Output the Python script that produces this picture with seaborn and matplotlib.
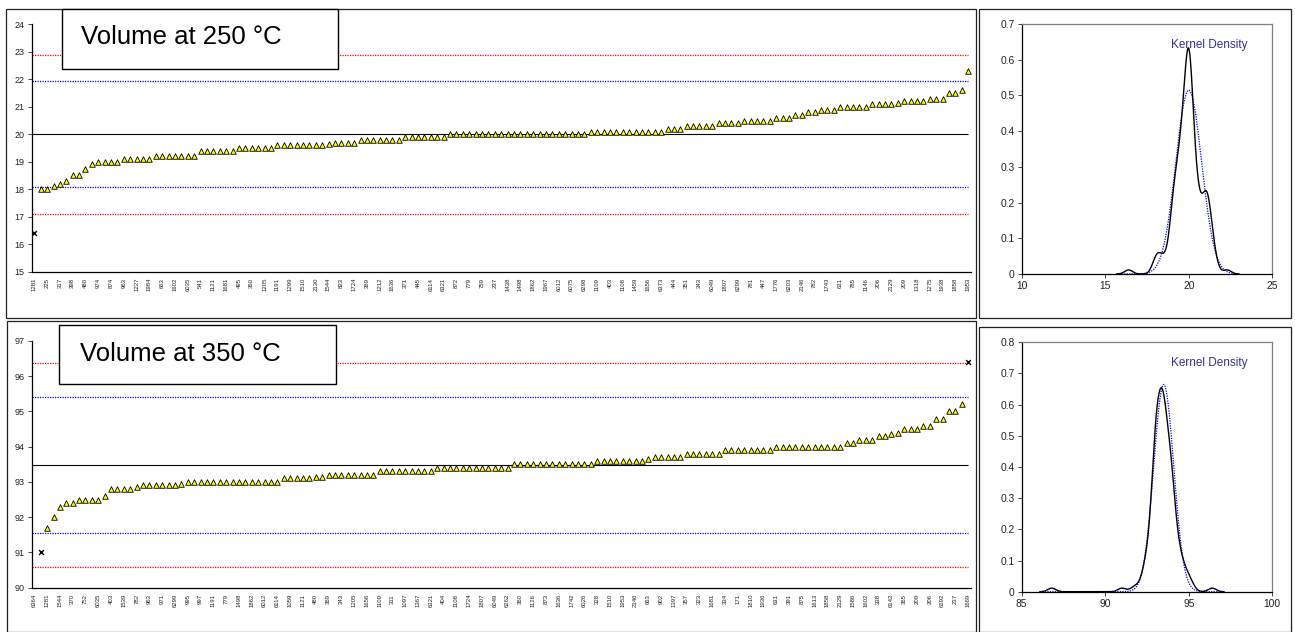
import numpy as np
import pandas as pd
import matplotlib
matplotlib.use("Agg")
import matplotlib.pyplot as plt
from matplotlib.patches import Rectangle
import seaborn as sns

# ---------------------------------------------------------------------------
# Volume at 250 °C: laboratory results sorted ascending
vol250 = [
    16.4, 18.0, 18.0, 18.1, 18.2, 18.3, 18.5, 18.5, 18.75, 18.9,
    19.0, 19.0, 19.0, 19.0, 19.1, 19.1, 19.1, 19.1, 19.1,
    19.2, 19.2, 19.2, 19.2, 19.2, 19.2, 19.2,
    19.4, 19.4, 19.4, 19.4, 19.4, 19.4,
    19.5, 19.5, 19.5, 19.5, 19.5, 19.5,
    19.6, 19.6, 19.6, 19.6, 19.6, 19.6, 19.6, 19.6, 19.65,
    19.7, 19.7, 19.7, 19.7,
    19.8, 19.8, 19.8, 19.8, 19.8, 19.8, 19.8,
    19.9, 19.9, 19.9, 19.9, 19.9, 19.9, 19.9,
    20.0, 20.0, 20.0, 20.0, 20.0, 20.0, 20.0, 20.0, 20.0, 20.0, 20.0,
    20.0, 20.0, 20.0, 20.0, 20.0, 20.0, 20.0, 20.0, 20.0, 20.0, 20.0,
    20.1, 20.1, 20.1, 20.1, 20.1, 20.1, 20.1, 20.1, 20.1, 20.1, 20.1, 20.1,
    20.2, 20.2, 20.2,
    20.3, 20.3, 20.3, 20.3, 20.3,
    20.4, 20.4, 20.4, 20.4,
    20.5, 20.5, 20.5, 20.5, 20.5,
    20.6, 20.6, 20.6, 20.7, 20.7, 20.8, 20.8,
    20.9, 20.9, 20.9,
    21.0, 21.0, 21.0, 21.0, 21.0,
    21.1, 21.1, 21.1, 21.1, 21.15,
    21.2, 21.2, 21.2, 21.2,
    21.3, 21.3, 21.3, 21.5, 21.5, 21.6, 22.3,
]
labs250 = [
    "1281", "225", "317", "398", "480", "974", "874", "963", "1227", "1984",
    "663", "1602", "6035", "541", "1121", "1681", "495", "360", "1205", "1191",
    "1299", "1510", "2130", "1544", "823", "1724", "369", "1212", "1636", "371",
    "445", "6114", "6321", "872", "779", "759", "237", "1438", "1498", "1862",
    "1967", "6012", "6075", "6298", "1109", "403", "1108", "1459", "1656", "6373",
    "444", "351", "343", "6049", "1807", "6299", "781", "447", "1776", "6203",
    "2146", "782", "1743", "631", "785", "1146", "206", "2129", "209", "1318",
    "1275", "1938", "1858", "1953",
]
outliers250 = [0]
center250 = 20.0
warn250 = [18.07, 21.93]
action250 = [17.11, 22.89]
normal250 = (20.0, 0.775)          # mean, sd of the fitted normal curve

# Volume at 350 °C: laboratory results sorted ascending
vol350 = [
    86.8, 91.0, 91.7, 92.0, 92.3, 92.4, 92.4,
    92.5, 92.5, 92.5, 92.5, 92.6,
    92.8, 92.8, 92.8, 92.8, 92.85,
    92.9, 92.9, 92.9, 92.9, 92.9, 92.9, 92.95,
    93.0, 93.0, 93.0, 93.0, 93.0, 93.0, 93.0, 93.0, 93.0, 93.0,
    93.0, 93.0, 93.0, 93.0, 93.0,
    93.1, 93.1, 93.1, 93.1, 93.1, 93.15, 93.15,
    93.2, 93.2, 93.2, 93.2, 93.2, 93.2, 93.2, 93.2,
    93.3, 93.3, 93.3, 93.3, 93.3, 93.3, 93.3, 93.3, 93.3,
    93.4, 93.4, 93.4, 93.4, 93.4, 93.4, 93.4, 93.4, 93.4, 93.4, 93.4, 93.4,
    93.5, 93.5, 93.5, 93.5, 93.5, 93.5, 93.5, 93.5, 93.5, 93.5, 93.5, 93.5, 93.5,
    93.6, 93.6, 93.6, 93.6, 93.6, 93.6, 93.6, 93.6, 93.65,
    93.7, 93.7, 93.7, 93.7, 93.7,
    93.8, 93.8, 93.8, 93.8, 93.8, 93.8,
    93.9, 93.9, 93.9, 93.9, 93.9, 93.9, 93.9, 93.9,
    94.0, 94.0, 94.0, 94.0, 94.0, 94.0, 94.0, 94.0, 94.0, 94.0, 94.0,
    94.1, 94.1, 94.2, 94.2, 94.2, 94.3, 94.3, 94.35, 94.4,
    94.5, 94.5, 94.5, 94.6, 94.6, 94.8, 94.8, 95.0, 95.0, 95.2, 96.4,
]
labs350 = [
    "6364", "1281", "1544", "370", "752", "6035", "403", "1539", "782", "963",
    "971", "6299", "995", "997", "1191", "779", "1498", "1862", "6012", "6114",
    "1059", "1121", "480", "369", "343", "1205", "1656", "1109", "311", "1097",
    "1367", "6321", "404", "1108", "1724", "1807", "6049", "6262", "360", "1126",
    "873", "1636", "1742", "6026", "328", "1510", "1953", "2146", "663", "902",
    "1397", "357", "323", "1681", "334", "171", "1810", "1936", "631", "391",
    "875", "1613", "1858", "2129", "1586", "1602", "338", "6142", "365", "209",
    "206", "6192", "237", "1669",
]
outliers350 = [0, 1, 146]
center350 = 93.48
warn350 = [91.55, 95.41]
action350 = [90.58, 96.38]
normal350 = (93.5, 0.60)

kde_bandwidth = 0.238              # absolute kernel width for the solid curve

# ---------------------------------------------------------------------------
sns.set_theme(style="white")
plt.rcParams["font.family"] = ["Liberation Sans", "DejaVu Sans"]

W, H = 1295, 632
fig = plt.figure(figsize=(W / 100, H / 100), dpi=100)
fig.patch.set_facecolor("white")


def fbox(x0, y0, x1, y1):
    """Pixel box (top-left origin) -> figure fraction [left, bottom, w, h]."""
    return [x0 / W, 1 - y1 / H, (x1 - x0) / W, (y1 - y0) / H]


def frame(x0, y0, x1, y1, lw=0.9):
    l, b, w, h = fbox(x0, y0, x1, y1)
    fig.add_artist(Rectangle((l, b), w, h, transform=fig.transFigure,
                             fill=False, edgecolor="#202020", lw=lw, zorder=0))


# chart borders
frame(6, 9.3, 976, 318)
frame(6.5, 321, 976, 631.5)
frame(979, 9.3, 1291, 318)
frame(979, 327, 1291, 631.5)

dot = (0, (1, 1))


def sorted_panel(rect, vals, labs, outl, center, warn, action, ylim):
    ax = fig.add_axes(fbox(*rect))
    vals = np.asarray(vals)
    idx = np.arange(len(vals))
    is_out = np.isin(idx, outl)
    df = pd.DataFrame({"pos": idx, "value": vals, "out": is_out})
    x_lo, x_hi = -0.41, len(vals) - 1 + 0.45

    ax.hlines(action, x_lo, len(vals) - 1, colors="#FF0000",
              linestyles=dot, lw=0.9, zorder=1)
    ax.hlines(warn, x_lo, len(vals) - 1, colors="#0000FF",
              linestyles=dot, lw=0.9, zorder=1)
    ax.hlines([center], x_lo, len(vals) - 1, colors="black", lw=0.8, zorder=1)

    sns.scatterplot(data=df[~df.out], x="pos", y="value", marker="^", s=16,
                    color="#FFFF00", edgecolor="black", linewidth=0.6,
                    ax=ax, zorder=3, legend=False)
    sns.scatterplot(data=df[df.out], x="pos", y="value", marker="x", s=12,
                    color="black", linewidth=1.0, ax=ax, zorder=3,
                    legend=False)

    ax.set_xlim(x_lo, x_hi)
    ax.set_ylim(*ylim)
    ax.set_yticks(np.arange(ylim[0], ylim[1] + 1, 1))
    ax.set_xticks(idx[::2])
    ax.set_xticklabels(labs, rotation=90, fontsize=4.3, color="#222222")
    ax.tick_params(axis="x", length=0, pad=4.5)
    ax.tick_params(axis="y", direction="out", length=3, width=0.6,
                   labelsize=6.5, labelcolor="#222222", pad=2, left=True)
    ax.set_xlabel("")
    ax.set_ylabel("")
    for s in ("top", "right"):
        ax.spines[s].set_visible(False)
    for s in ("left", "bottom"):
        ax.spines[s].set_color("black")
        ax.spines[s].set_linewidth(0.9)
    ax.set_facecolor("none")
    return ax


def density_panel(rect, vals, normal, xlim, ylim, yticks, xticks):
    ax = fig.add_axes(fbox(*rect))
    vals = np.asarray(vals)
    factor = kde_bandwidth / np.std(vals, ddof=1)
    sns.kdeplot(x=vals, bw_method=factor, cut=3, gridsize=400,
                color="black", lw=1.0, ax=ax, zorder=3)
    lo = vals.min() - 3 * kde_bandwidth
    hi = vals.max() + 3 * kde_bandwidth
    grid = np.linspace(lo, hi, 400)
    mu, sd = normal
    pdf = np.exp(-0.5 * ((grid - mu) / sd) ** 2) / (sd * np.sqrt(2 * np.pi))
    sns.lineplot(x=grid, y=pdf, color="#0000FF", lw=0.9, linestyle=dot,
                 ax=ax, zorder=2)
    ax.text(0.75, 0.915, "Kernel Density", transform=ax.transAxes,
            ha="center", va="center", fontsize=8.5, color="#333399", zorder=1)
    ax.set_xlim(*xlim)
    ax.set_ylim(*ylim)
    ax.set_xticks(xticks)
    ax.set_yticks(yticks)
    ax.set_yticklabels([("0" if t == 0 else f"{t:.1f}") for t in yticks])
    ax.tick_params(direction="out", length=3, width=0.6, labelsize=7.4,
                   labelcolor="#222222", pad=2, left=True, bottom=True)
    ax.set_xlabel("")
    ax.set_ylabel("")
    for s in ("left", "bottom"):
        ax.spines[s].set_color("black")
        ax.spines[s].set_linewidth(0.9)
    for s in ("top", "right"):
        ax.spines[s].set_color("#808080")
        ax.spines[s].set_linewidth(0.9)
    ax.set_facecolor("none")
    return ax


sorted_panel((31.7, 24.3, 971, 271.7), vol250, labs250, outliers250,
             center250, warn250, action250, (15, 24))
sorted_panel((31.7, 341, 971, 587.7), vol350, labs350, outliers350,
             center350, warn350, action350, (90, 97))

density_panel((1021.7, 24, 1272.3, 274), vol250, normal250, (10, 25), (0, 0.7),
              np.round(np.arange(0, 0.71, 0.1), 1), [10, 15, 20, 25])
density_panel((1021.7, 342.3, 1272.3, 591.7), vol350, normal350, (85, 100),
              (0, 0.8), np.round(np.arange(0, 0.81, 0.1), 1),
              [85, 90, 95, 100])


def title_box(x0, y0, x1, y1, text, tx, ty):
    l, b, w, h = fbox(x0, y0, x1, y1)
    fig.add_artist(Rectangle((l, b), w, h, transform=fig.transFigure,
                             facecolor="white", edgecolor="black", lw=1.0,
                             zorder=5))
    fig.text(tx / W, 1 - ty / H, text, ha="left", va="center",
             fontsize=18.5, color="black", zorder=6)


title_box(61.7, 9.3, 338.3, 69, "Volume at 250 °C", 81, 37)
title_box(59.3, 325, 336, 384.3, "Volume at 350 °C", 80, 354)

fig.savefig("out.png", dpi=100)
